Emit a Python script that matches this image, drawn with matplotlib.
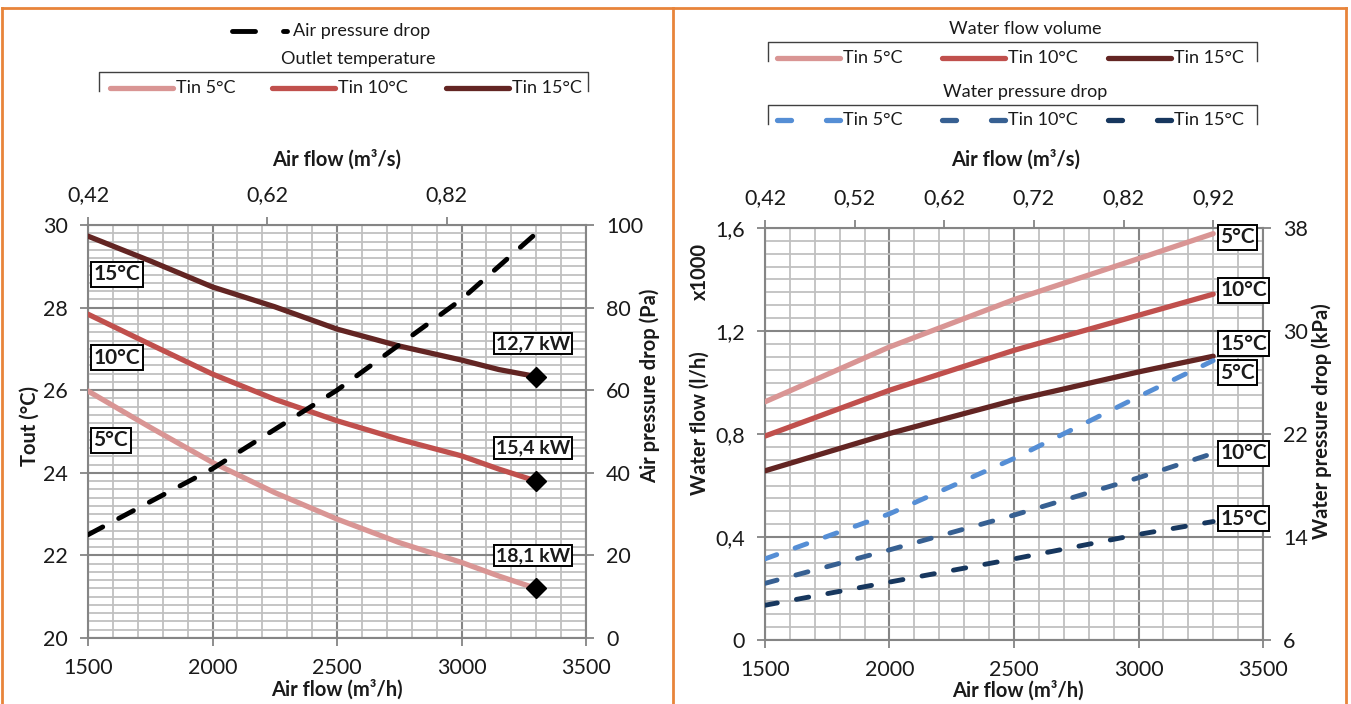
import matplotlib

matplotlib.use("Agg")
import matplotlib.pyplot as plt
from matplotlib.ticker import FixedLocator, FuncFormatter, MultipleLocator

plt.rcParams["font.family"] = ["Lato", "DejaVu Sans"]
plt.rcParams["lines.scale_dashes"] = False

# Left chart: outlet temperature + air pressure drop
airflow_tout = [1500, 1750, 2000, 2250, 2500, 2750, 3000, 3150, 3300]
tout_5 = [25.98, 25.10, 24.25, 23.52, 22.88, 22.31, 21.83, 21.50, 21.20]
tout_10 = [27.84, 27.11, 26.39, 25.78, 25.26, 24.81, 24.41, 24.09, 23.80]
tout_15 = [29.73, 29.13, 28.50, 28.02, 27.48, 27.07, 26.73, 26.50, 26.33]
power_labels = ["18,1 kW", "15,4 kW", "12,7 kW"]

airflow_dp_air = [1500, 2000, 2500, 3000, 3300]
air_dp = [25, 41, 60, 82, 98]

# Right chart: water flow (x1000 l/h) + water pressure drop (kPa)
airflow_w = [1500, 2000, 2500, 3000, 3300]
flow_5 = [0.925, 1.138, 1.322, 1.481, 1.578]
flow_10 = [0.792, 0.970, 1.125, 1.261, 1.343]
flow_15 = [0.657, 0.802, 0.931, 1.041, 1.102]
water_dp_5 = [12.3, 15.8, 20.1, 24.9, 27.7]
water_dp_10 = [10.4, 13.0, 15.7, 18.6, 20.5]
water_dp_15 = [8.7, 10.5, 12.3, 14.2, 15.2]
water_dp_ticks = [6, 14, 22, 30, 38]

tin_labels = ["Tin 5°C", "Tin 10°C", "Tin 15°C"]
short_labels = ["5°C", "10°C", "15°C"]

RED = ["#D99594", "#C0504D", "#632523"]
BLUE = ["#558ED5", "#376092", "#17375E"]
GRID_MINOR = "#C0C0C0"
GRID_MAJOR = "#858585"
ORANGE = "#E8843A"
TXT = "#1a1a1a"

W, H = 1351, 704


def comma(fmt):
    return FuncFormatter(lambda v, _: format(v, fmt).replace(".", ","))


def tick_style(axis_obj):
    axis_obj.tick_params(which="major", length=5.5, width=1.3,
                         color=GRID_MAJOR, labelsize=15.5, labelcolor=TXT,
                         pad=9)


def style_axes(ax, xminor, yminor, ymajor):
    ax.set_xlim(1500, 3500)
    ax.xaxis.set_major_locator(MultipleLocator(500))
    ax.xaxis.set_minor_locator(MultipleLocator(xminor))
    ax.yaxis.set_major_locator(MultipleLocator(ymajor))
    ax.yaxis.set_minor_locator(MultipleLocator(yminor))
    ax.grid(which="minor", color=GRID_MINOR, lw=1.3, zorder=0)
    ax.grid(which="major", color=GRID_MAJOR, lw=1.5, zorder=0)
    ax.set_axisbelow(True)
    ax.tick_params(which="minor", length=0)
    for sp in ax.spines.values():
        sp.set_color(GRID_MAJOR)
        sp.set_linewidth(1.5)


def top_axis(ax, step, n):
    sec = ax.secondary_xaxis("top", functions=(lambda x: x / 3600,
                                                lambda x: x * 3600))
    sec.xaxis.set_major_locator(
        FixedLocator([1500 / 3600 + step * k for k in range(n)]))
    sec.xaxis.set_major_formatter(comma(".2f"))
    sec.spines["top"].set_visible(False)
    return sec


def box(ax, x, y, s, ha="center", size=14):
    ax.text(x, y, s, ha=ha, va="center", fontsize=size, fontweight="bold",
            color=TXT, zorder=10,
            bbox=dict(boxstyle="square,pad=0.12", fc="white", ec="black",
                      lw=1.4))


def px_axes(x0, x1, y0, y1):
    return [x0 / W, 1 - y1 / H, (x1 - x0) / W, (y1 - y0) / H]


def label(fig, x, y, s, rot=0):
    fig.text(x / W, 1 - y / H, s, rotation=rot, ha="center", va="center",
             fontsize=14.5, fontweight="bold", color=TXT)


def main():
    fig = plt.figure(figsize=(W / 100, H / 100), dpi=100)

    # overlay for borders and legends in pixel coordinates
    ov = fig.add_axes([0, 0, 1, 1])
    ov.set_xlim(0, W)
    ov.set_ylim(H, 0)
    ov.axis("off")
    for xs, ys in [([2, 1346], [8, 8]), ([2, 2], [8, 704]),
                   ([673, 673], [8, 704]), ([1346, 1346], [8, 704])]:
        ov.plot(xs, ys, color=ORANGE, lw=2)

    # ---------- left chart ----------
    ax = fig.add_axes(px_axes(88, 586, 225, 638))
    style_axes(ax, 100, 0.2, 2)
    ax.set_ylim(20, 30)
    ax.xaxis.set_major_formatter(comma(".0f"))
    sec = top_axis(ax, 0.2, 3)

    ax2 = ax.twinx()
    ax2.set_ylim(0, 100)
    ax2.yaxis.set_major_locator(MultipleLocator(20))
    for sp in ax2.spines.values():
        sp.set_visible(False)
    ax2.plot(airflow_dp_air, air_dp, color="black", lw=3.5,
             dashes=(12, 13), dash_capstyle="round", zorder=3)

    for series, c in zip([tout_5, tout_10, tout_15], RED):
        ax.plot(airflow_tout, series, color=c, lw=3.8,
                solid_capstyle="round", zorder=3)
    ends = [tout_5[-1], tout_10[-1], tout_15[-1]]
    for e, lab in zip(ends, power_labels):
        ax.plot([airflow_tout[-1]], [e], marker="D", ms=10, color="black",
                zorder=4, clip_on=False)
        box(ax, 3287, e + 0.8, lab)
    for y, lab in zip([24.79, 26.78, 28.81], short_labels):
        box(ax, 1522, y, lab, ha="left", size=15)

    label(fig, 30, 426, "Tout (°C)", 90)
    label(fig, 650, 386, "Air pressure drop (Pa)", 90)
    label(fig, 337, 160, "Air flow (m³/s)")
    label(fig, 337, 690, "Air flow (m³/h)")

    # ---------- right chart ----------
    bx = fig.add_axes(px_axes(765, 1263, 228, 640))
    style_axes(bx, 100, 0.05, 0.4)
    bx.set_ylim(0, 1.6)
    bx.yaxis.set_major_formatter(
        FuncFormatter(lambda v, _: ("%g" % round(v, 2)).replace(".", ",")))
    bx.xaxis.set_major_formatter(comma(".0f"))
    bsec = top_axis(bx, 0.1, 6)

    bx2 = bx.twinx()
    bx2.set_ylim(water_dp_ticks[0], water_dp_ticks[-1])
    bx2.yaxis.set_major_locator(FixedLocator(water_dp_ticks))
    for sp in bx2.spines.values():
        sp.set_visible(False)

    for series, c in zip([flow_5, flow_10, flow_15], RED):
        bx.plot(airflow_w, series, color=c, lw=3.8, solid_capstyle="round",
                zorder=3)
    for series, c in zip([water_dp_5, water_dp_10, water_dp_15], BLUE):
        bx2.plot(airflow_w, series, color=c, lw=3.5, dashes=(9, 14),
                 dash_capstyle="round", zorder=3)

    for y, lab in zip([1.565, 1.359, 1.150, 1.037, 0.726, 0.470],
                      short_labels + short_labels):
        box(bx2, 3328, 6 + (y / 1.6) * 32, lab, ha="left", size=15)

    label(fig, 700, 423, "Water flow (l/h)", 90)
    label(fig, 700, 271, "x1000", 90)
    label(fig, 1322, 421, "Water pressure drop (kPa)", 90)
    label(fig, 1016, 160, "Air flow (m³/s)")
    label(fig, 1018, 691, "Air flow (m³/h)")

    for a in [ax, ax2, sec, bx, bx2, bsec]:
        tick_style(a)

    # ---------- legends ----------
    lg = dict(fontsize=13, color=TXT, va="center")
    # left: air pressure drop
    ov.plot([232, 255], [31, 31], color="black", lw=3.5,
            solid_capstyle="round")
    ov.plot([283, 287], [31, 31], color="black", lw=3.5,
            solid_capstyle="round")
    ov.text(293, 31, "Air pressure drop", ha="left", **lg)
    # left: outlet temperature
    ov.text(358, 59, "Outlet temperature", ha="center", **lg)
    ov.plot([99, 99, 588, 588], [91, 72, 72, 91], color="#404040", lw=1)
    for x0, c, lab in zip([110, 272, 446], RED, tin_labels):
        ov.plot([x0, x0 + 63], [88, 88], color=c, lw=3.8,
                solid_capstyle="round")
        ov.text(x0 + 66, 88, lab, ha="left", **lg)

    # right: water flow volume
    ov.text(1025, 29, "Water flow volume", ha="center", **lg)
    ov.plot([768, 768, 1257, 1257], [61, 42, 42, 61], color="#404040", lw=1)
    for x0, c, lab in zip([777, 942, 1108], RED, tin_labels):
        ov.plot([x0, x0 + 63], [58, 58], color=c, lw=3.8,
                solid_capstyle="round")
        ov.text(x0 + 66, 58, lab, ha="left", **lg)
    # right: water pressure drop
    ov.text(1025, 92, "Water pressure drop", ha="center", **lg)
    ov.plot([768, 768, 1257, 1257], [124, 105, 105, 124], color="#404040",
            lw=1)
    for x0, c, lab in zip([777, 942, 1108], BLUE, tin_labels):
        ov.plot([x0, x0 + 14], [120, 120], color=c, lw=3.8,
                solid_capstyle="round")
        ov.plot([x0 + 49, x0 + 63], [120, 120], color=c, lw=3.8,
                solid_capstyle="round")
        ov.text(x0 + 66, 120, lab, ha="left", **lg)

    fig.savefig("out.png", dpi=100)
    plt.close(fig)


if __name__ == "__main__":
    main()
